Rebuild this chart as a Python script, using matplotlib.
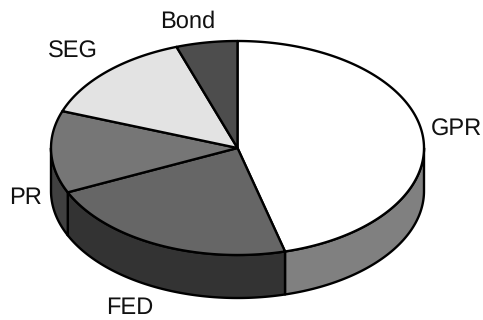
import numpy as np
import matplotlib
matplotlib.use("Agg")
import matplotlib.pyplot as plt
from matplotlib.patches import Polygon

plt.rcParams["text.hinting"] = "none"

labels = ["GPR", "FED", "PR", "SEG", "Bond"]
shares = [45.9, 22.3, 12.4, 14.1, 5.3]
top_colors = ["#ffffff", "#666666", "#767676", "#e3e3e3", "#4d4d4d"]
side_colors = ["#808080", "#333333", "#404040", "#b0b0b0", "#262626"]
label_xy = [(456.5, 136), (130, 314.5), (25.5, 204.5), (73, 58), (188, 28)]

W, H = 483, 320
CX, CY = 237.5, 148
RX, RY = 186.5, 107
DEPTH = 43
LW = 1.7

fig = plt.figure(figsize=(W / 100, H / 100), dpi=100)
ax = fig.add_axes([0, 0, 1, 1])
ax.set_xlim(0, W)
ax.set_ylim(H, 0)
ax.axis("off")


def rim(t0, t1, drop=0.0):
    # Ellipse points for clockwise angles measured from twelve o'clock
    t = np.radians(np.linspace(t0, t1, max(int(abs(t1 - t0)) * 2, 2)))
    return np.column_stack([CX + RX * np.sin(t), CY - RY * np.cos(t) + drop])


edges = np.concatenate([[0], np.cumsum(shares)]) / sum(shares) * 360

# Front wall, only the part of each slice facing the viewer
for i in range(len(shares)):
    a, b = max(edges[i], 90), min(edges[i + 1], 270)
    if a >= b:
        continue
    pts = np.vstack([rim(a, b), rim(a, b, DEPTH)[::-1]])
    ax.add_patch(Polygon(pts, closed=True, facecolor=side_colors[i],
                         edgecolor="black", linewidth=LW, joinstyle="round"))

# Top face
for i in range(len(shares)):
    pts = np.vstack([[CX, CY], rim(edges[i], edges[i + 1])])
    ax.add_patch(Polygon(pts, closed=True, facecolor=top_colors[i],
                         edgecolor="black", linewidth=LW, joinstyle="round"))

for name, (x, y) in zip(labels, label_xy):
    ax.text(x, y, name, ha="center", va="baseline", fontsize=17,
            family="Liberation Sans", color="#111111")

fig.savefig("out.png", dpi=100, facecolor="white")
